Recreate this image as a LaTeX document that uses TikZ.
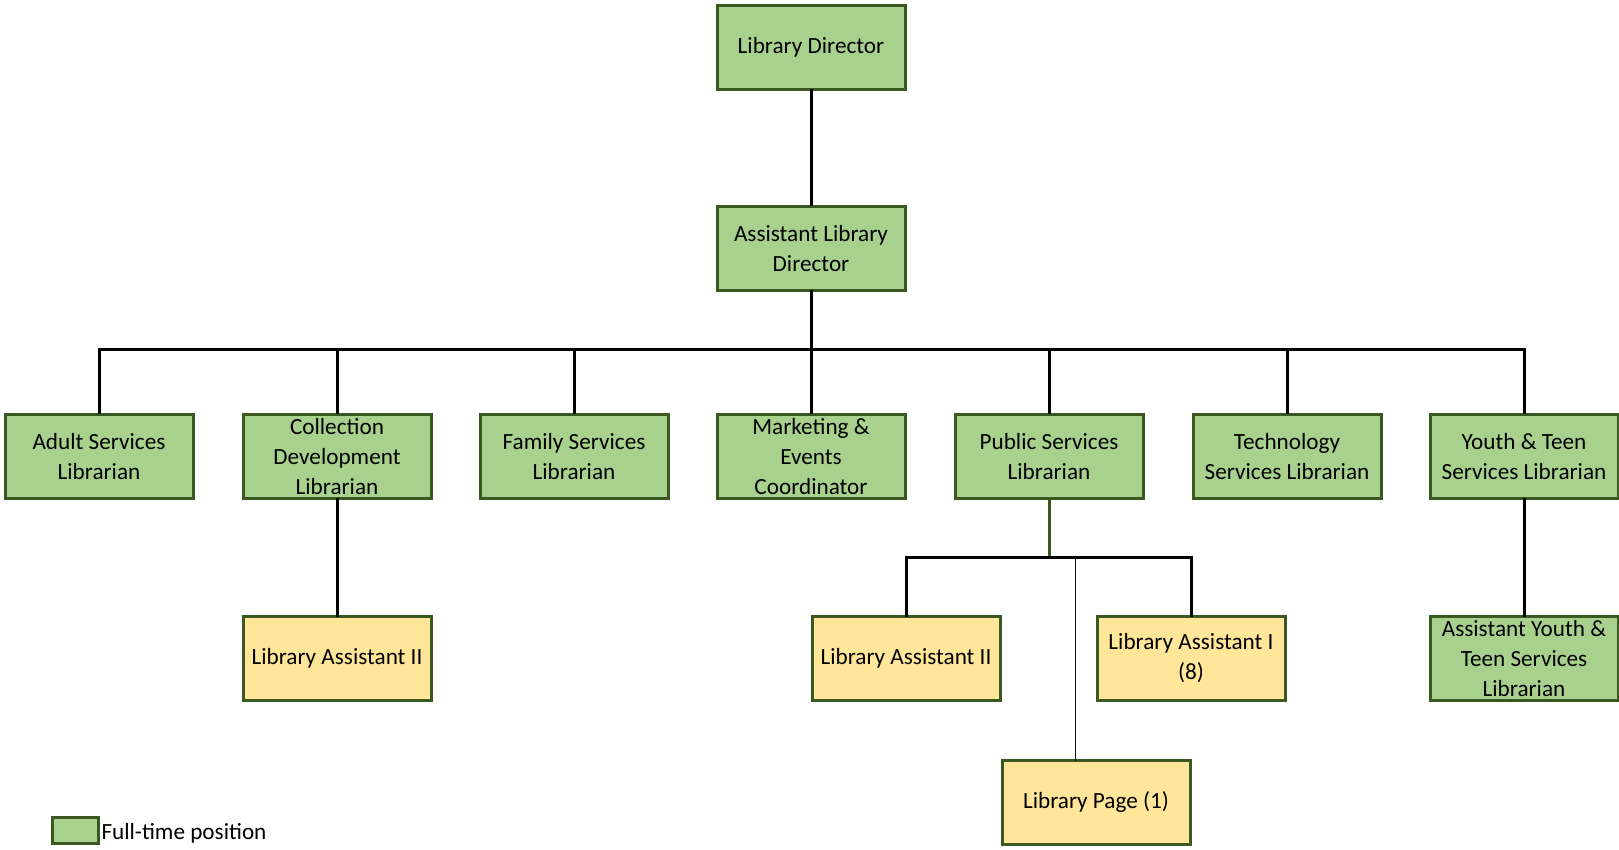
\documentclass[tikz,border=0pt]{standalone}
\usepackage{fontspec}
\setmainfont{Carlito}
\definecolor{OrgFull}{HTML}{A9D18E}
\definecolor{OrgPart}{HTML}{FFE699}
\definecolor{OrgEdge}{HTML}{3A5921}
\definecolor{OrgInk}{gray}{0.0}
\definecolor{OrgThin}{gray}{0.05}
\tikzset{
    org/chart/.style={
        x=0.5pt, y=-0.5pt,
        font=\fontsize{11.6}{15}\selectfont,
        line join=miter,
        every node/.style={inner sep=1pt, outer sep=0pt}
    },
    org/post/.style={
        draw=OrgEdge, line width=1.5pt, text=OrgInk,
        minimum width=94pt, minimum height=42pt, align=center
    },
    org/full/.style={org/post, fill=OrgFull},
    org/part/.style={org/post, fill=OrgPart},
    org/link/.style={draw=OrgInk, line width=1.5pt},
    org/branch/.style={draw=OrgEdge, line width=1.5pt},
    org/thin/.style={draw=OrgThin, line width=0.5pt}
}

\begin{document}
\begin{tikzpicture}[org/chart]
    \useasboundingbox (0,0) rectangle (1619,850);
    % top of the chart
    \node[org/full] (director) at (811,47.5) {Library Director};
    \node[org/full] (assistdir) at (811,248.5) {Assistant Library\\Director};
    % librarians reporting to the assistant director
    \node[org/full] (adult) at (99,456.5) {Adult Services\\Librarian};
    \node[org/full] (collect) at (337,456.5) {Collection\\Development\\Librarian};
    \node[org/full] (family) at (574,456.5) {Family Services\\Librarian};
    \node[org/full] (market) at (811,456.5) {Marketing \&\\Events\\Coordinator};
    \node[org/full] (public) at (1049,456.5) {Public Services\\Librarian};
    \node[org/full] (tech) at (1287,456.5) {Technology\\Services Librarian};
    \node[org/full] (youth) at (1524,456.5) {Youth \& Teen\\Services Librarian};
    % assistants and pages
    \node[org/part] (collasst) at (337,658.5) {Library Assistant II};
    \node[org/part] (pubasst2) at (906,658.5) {Library Assistant II};
    \node[org/part] (pubasst1) at (1191,658.5) {Library Assistant I\\(8)};
    \node[org/full] (youthasst) at (1524,658.5) {Assistant Youth \&\\Teen Services\\Librarian};
    \node[org/part] (page) at (1096,802.5) {Library Page (1)};
    % legend
    \node[org/full, minimum width=23pt, minimum height=13pt] (keybox) at (75.5,830.5) {};
    \node[anchor=west, inner sep=1.5pt, yshift=-1.5pt] (keytext) at (keybox.east) {Full-time position};
    % connectors
    \coordinate (bus) at (811,350);
    \coordinate (subbus) at (1049,557);
    \coordinate (pagetap) at (1075,557);
    \draw[org/link] (director) -- (assistdir);
    \draw[org/link] (assistdir) -- (bus);
    \foreach \post in {adult,collect,family,market,public,tech,youth}
        \draw[org/link] (bus) -| (\post);
    \draw[org/link] (collect) -- (collasst);
    \draw[org/link] (youth) -- (youthasst);
    \draw[org/branch] (public) -- (subbus);
    \draw[org/link] (subbus) -| (pubasst2);
    \draw[org/link] (subbus) -| (pubasst1);
    \draw[org/thin] (pagetap) -- (pagetap |- page.north);
\end{tikzpicture}
\end{document}
